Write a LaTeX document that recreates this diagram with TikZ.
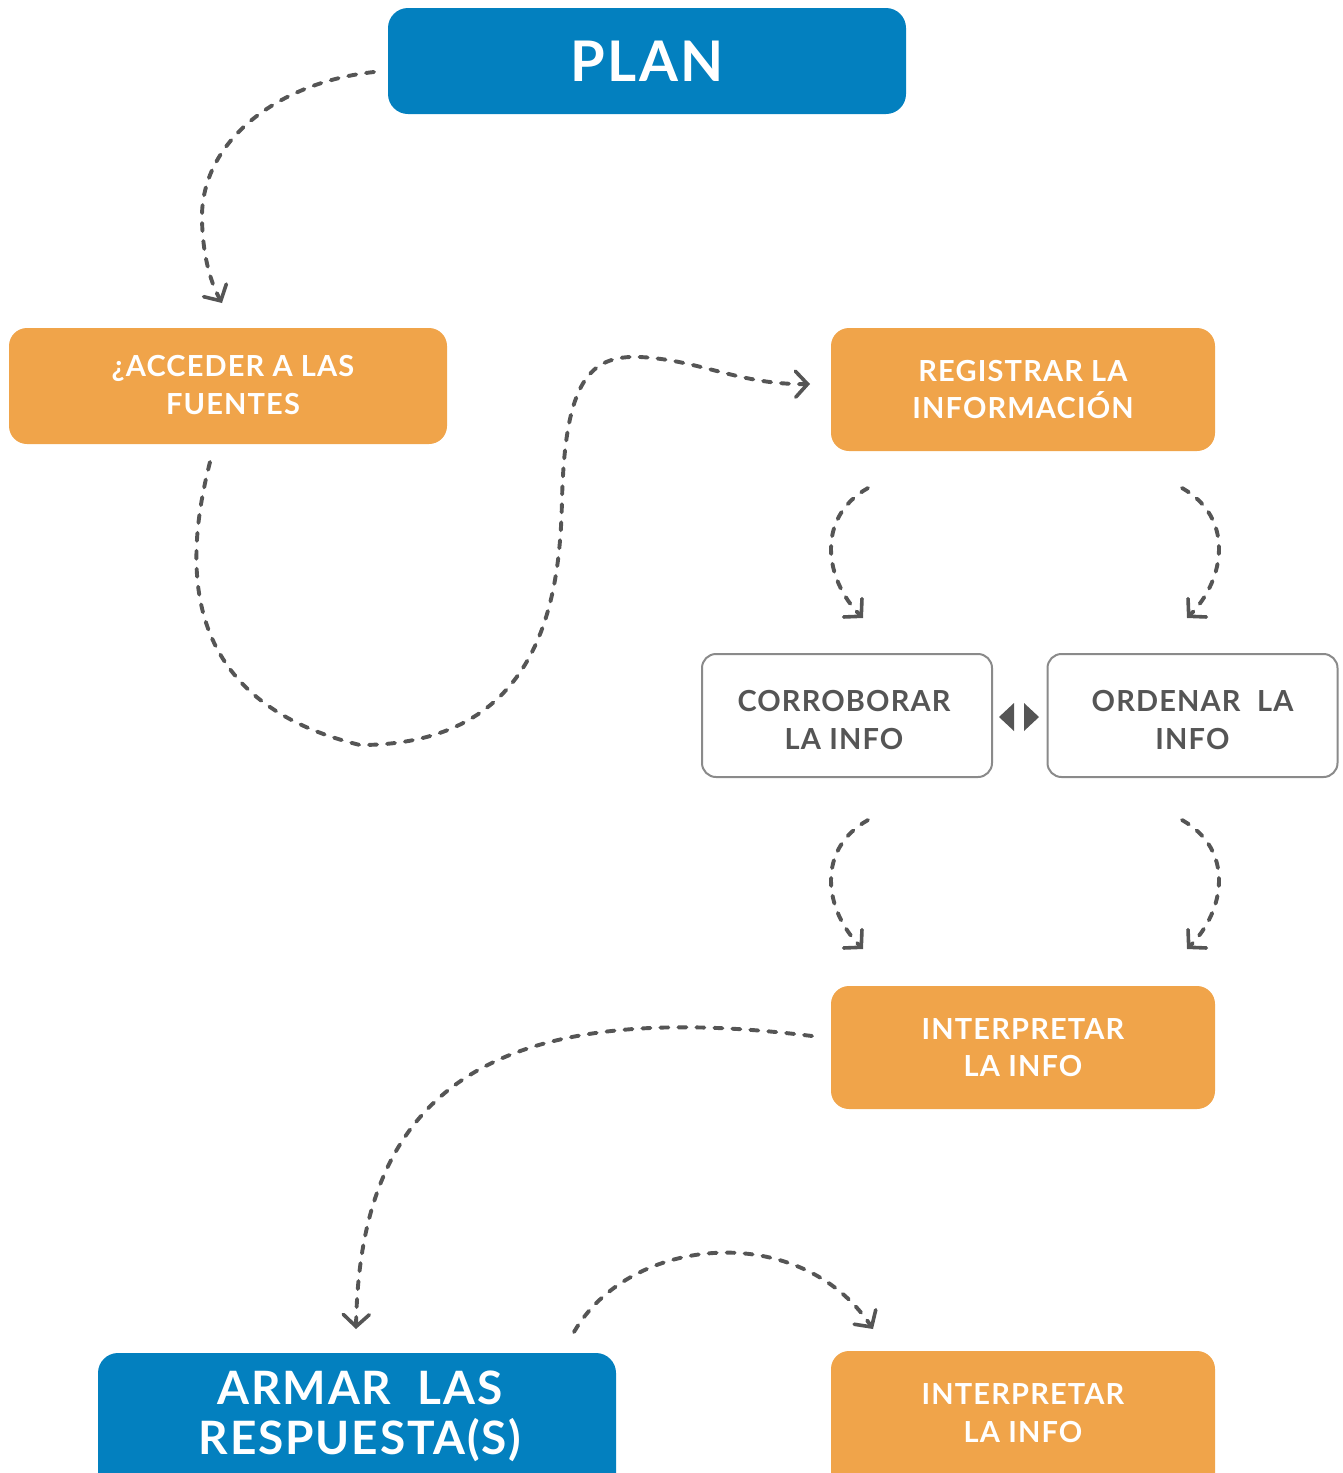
\documentclass[tikz,border=0pt]{standalone}
\usepackage{fontspec}
\setmainfont{Lato}[LetterSpace=4]
\usetikzlibrary{arrows.meta}
\definecolor{planblue}{HTML}{0380BF}
\definecolor{boxorange}{HTML}{F0A44A}
\definecolor{arrowgray}{HTML}{555555}
\definecolor{bordergray}{HTML}{8A8A8A}
\definecolor{textgray}{HTML}{555555}
\begin{document}
\begin{tikzpicture}[x=1pt,y=-1pt,
  bluebox/.style={fill=planblue, rounded corners=20pt, text=white, align=center, inner sep=0pt},
  orangebox/.style={fill=boxorange, rounded corners=18pt, text=white, align=center, inner sep=0pt,
    minimum width=384pt, minimum height=123pt, font=\fontsize{29}{37}\selectfont\bfseries},
  whitebox/.style={draw=bordergray, line width=2pt, fill=white, rounded corners=14pt,
    inner sep=0pt, minimum width=290pt, minimum height=123pt},
  orangetext/.style={text=white, align=center, inner sep=0pt, font=\fontsize{29}{38}\selectfont\bfseries},
  graytext/.style={text=textgray, align=center, inner sep=0pt, font=\fontsize{29}{38}\selectfont\bfseries},
  bluetext/.style={text=white, align=center, inner sep=0pt, font=\fontsize{46}{50}\selectfont\bfseries},
  flow/.style={draw=arrowgray, line width=3.9pt, line cap=round, dash pattern=on 8pt off 10pt,
    -{Straight Barb[length=12pt,width=26pt,line width=3.6pt,line cap=round]}},
  tri/.style={fill=arrowgray, draw=none}
]
\useasboundingbox (0,0) rectangle (1343,1473);
\clip (0,0) rectangle (1343,1473);

% boxes
\node[bluebox, minimum width=518pt, minimum height=106pt, font=\fontsize{56}{60}\selectfont\bfseries] (plan) at (647,61) {PLAN};
\node[orangebox, minimum width=438pt, minimum height=116pt] (acc) at (228,386) {};
\node[orangebox] (reg) at (1023,389.5) {REGISTRAR LA\\INFORMACIÓN};
\node[whitebox] (cor) at (847,715.5) {};
\node[whitebox] (ord) at (1192.5,715.5) {};
\node[orangebox] (int1) at (1023,1047.5) {INTERPRETAR\\LA INFO};
\node[bluebox, minimum width=518pt, minimum height=150pt] (arm) at (357,1428) {};
\node[orangebox, minimum height=150pt] (int2) at (1023,1426) {};

% texts
\node[orangetext] (acct) at (233,385) {¿ACCEDER A LAS\\FUENTES};
\node[graytext] (cort) at (844,720) {CORROBORAR\\LA INFO};
\node[graytext] (ordt) at (1192.5,720) {ORDENAR\ \ LA\\INFO};
\node[bluetext] (armt) at (360,1416) {ARMAR\ \ LAS\\RESPUESTA(S)};
\node[orangetext] (int2t) at (1023,1413) {INTERPRETAR\\LA INFO};

% double triangle
\path[tri] (1014,703) -- (1014,731) -- (999,717) -- cycle;
\path[tri] (1024,703) -- (1024,731) -- (1039,717) -- cycle;

% connector end points
\coordinate (p1s) at (374,72);   \coordinate (p1e) at (222,303);
\coordinate (p2s) at (210,462);  \coordinate (p2e) at (810,384);
\coordinate (p3s) at (868,488);  \coordinate (p3e) at (863,618);
\coordinate (p4s) at (1182,488); \coordinate (p4e) at (1187,618);
\coordinate (p5s) at (868,820);  \coordinate (p5e) at (863,949);
\coordinate (p6s) at (1182,820); \coordinate (p6e) at (1187,949);
\coordinate (p7s) at (812,1036); \coordinate (p7e) at (356,1329);
\coordinate (p8s) at (574,1332); \coordinate (p8e) at (873,1329);

% connectors
\draw[flow] (p1s) .. controls (280,82) and (200,140) .. (202,220) .. controls (203,260) and (212,285) .. (p1e);
\draw[flow] (p2s) .. controls (185,560) and (175,700) .. (360,745)
  .. controls (540,745) and (560,600) .. (562,500)
  .. controls (565,380) and (590,355) .. (640,357)
  .. controls (700,360) and (740,385) .. (p2e);
\draw[flow] (p3s) .. controls (815,518) and (825,580) .. (p3e);
\draw[flow] (p4s) .. controls (1235,518) and (1225,580) .. (p4e);
\draw[flow] (p5s) .. controls (815,850) and (825,911) .. (p5e);
\draw[flow] (p6s) .. controls (1235,850) and (1225,911) .. (p6e);
\draw[flow] (p7s) .. controls (480,995) and (360,1100) .. (p7e);
\draw[flow] (p8s) .. controls (630,1235) and (800,1220) .. (p8e);
\end{tikzpicture}
\end{document}
